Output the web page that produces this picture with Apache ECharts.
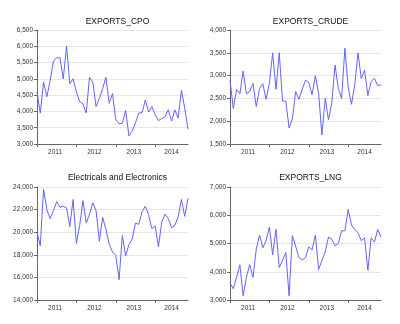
<!DOCTYPE html>
<html>
<head>
<meta charset="utf-8">
<script src="https://cdn.jsdelivr.net/npm/echarts@6/dist/echarts.min.js"></script>
<style>
  html, body { margin: 0; padding: 0; background: #fff; }
  #chart { width: 400px; height: 324px; }
</style>
</head>
<body>
<div id="chart"></div>
<script>
// Monthly observations, January 2011 through November 2014
const firstYear = 2011;
const monthCount = 47;

const cpo = [
  4600, 3950, 4900, 4450, 4950, 5550, 5640, 5650, 5000, 6000, 4850, 5000,
  4600, 4300, 4230, 3950, 5050, 4900, 4150, 4400, 4700, 5050, 4250, 4550,
  3750, 3620, 3640, 4030, 3250, 3400, 3650, 3950, 3960, 4350, 3980, 4150,
  3900, 3720, 3780, 3840, 4050, 3700, 4050, 3800, 4650, 4100, 3450
];

const crude = [
  2900, 2280, 2700, 2600, 3100, 2600, 2650, 2830, 2320, 2720, 2820, 2480,
  2830, 3500, 2700, 3500, 2440, 2440, 1850, 2050, 2650, 2480, 2700, 2900,
  2850, 2580, 3000, 2600, 1700, 2500, 2030, 2400, 3230, 2720, 2500, 3600,
  2750, 2370, 2800, 3500, 2930, 3120, 2560, 2870, 2940, 2780, 2800
];

const electronics = [
  20000, 18800, 23800, 22000, 21200, 21900, 22700, 22200, 22300, 22150, 20500, 22900,
  19000, 20600, 22800, 20800, 21600, 22600, 21900, 19200, 21300, 20250, 18950, 18250,
  17950, 15800, 19700, 17900, 18900, 19400, 20800, 20700, 21800, 22300, 21550, 20300,
  20550, 18700, 20900, 21600, 21200, 20400, 20600, 21350, 22900, 21400, 23000
];

const lng = [
  3600, 3400, 3800, 4250, 3150, 3800, 4250, 3800, 4800, 5300, 4850, 5100,
  5580, 4600, 5500, 4150, 4400, 4680, 3150, 5280, 4900, 4500, 4420, 4500,
  4880, 4780, 5300, 4080, 4400, 4700, 5230, 5150, 4920, 5000, 5450, 5450,
  6200, 5650, 5500, 5380, 5100, 5200, 4050, 5200, 5050, 5500, 5220
];

const titles = ['EXPORTS_CPO', 'EXPORTS_CRUDE', 'Electricals and Electronics', 'EXPORTS_LNG'];
const seriesValues = [cpo, crude, electronics, lng];
const yRanges = [
  { min: 3000, max: 6500, interval: 500 },
  { min: 1500, max: 4000, interval: 500 },
  { min: 14000, max: 24000, interval: 2000 },
  { min: 3000, max: 7000, interval: 1000 }
];

// Year ticks sit on each January; the year label is centred on that year's months
const yearOf = i => firstYear + Math.floor(i / 12);
const yearTicks = [];
const yearLabelAt = [];
const yearLabelText = {};
for (let y = firstYear; y <= yearOf(monthCount - 1); y++) {
  const idx = [];
  for (let i = 0; i < monthCount; i++) if (yearOf(i) === y) idx.push(i);
  yearTicks.push(idx[0]);
  const mid = (idx[0] + idx[idx.length - 1]) / 2;
  yearLabelAt.push(mid);
  yearLabelText[mid] = String(y);
}

const panels = [
  { left: 37, top: 30, width: 151, height: 114, titleTop: 12 },
  { left: 230, top: 30, width: 151, height: 114, titleTop: 12 },
  { left: 37, top: 187, width: 151, height: 113, titleTop: 168 },
  { left: 230, top: 187, width: 151, height: 113, titleTop: 168 }
];

const fontFamily = 'Arial, "Liberation Sans", sans-serif';
const axisColor = '#666';
const lineColor = '#6464ff';
const fmt = v => v.toLocaleString('en-US');

const option = {
  animation: false,
  backgroundColor: '#fff',
  title: panels.map((p, k) => ({
    text: titles[k],
    left: p.left + p.width / 2,
    top: p.titleTop,
    textAlign: 'center',
    textStyle: { fontFamily, fontSize: 8.5, fontWeight: 'normal', color: '#111' }
  })),
  grid: panels.map(p => ({ left: p.left, top: p.top, width: p.width, height: p.height })),
  xAxis: panels.map((p, k) => ({
    type: 'value',
    gridIndex: k,
    min: 0,
    max: monthCount - 1,
    axisLine: { show: true, lineStyle: { color: axisColor, width: 1 } },
    axisTick: { show: true, customValues: yearTicks, length: 3, lineStyle: { color: axisColor } },
    axisLabel: {
      customValues: yearLabelAt,
      formatter: v => yearLabelText[v] || '',
      fontFamily, fontSize: 6.5, color: '#333', margin: 5
    },
    splitLine: { show: false }
  })),
  yAxis: panels.map((p, k) => ({
    type: 'value',
    gridIndex: k,
    min: yRanges[k].min,
    max: yRanges[k].max,
    interval: yRanges[k].interval,
    axisLine: { show: true, lineStyle: { color: axisColor, width: 1 } },
    axisTick: { show: true, length: 3, lineStyle: { color: axisColor } },
    axisLabel: { formatter: fmt, fontFamily, fontSize: 6.5, color: '#333', margin: 4 },
    splitLine: { show: true, lineStyle: { color: '#e6e6e6', width: 1 } }
  })),
  series: seriesValues.map((vals, k) => ({
    type: 'line',
    xAxisIndex: k,
    yAxisIndex: k,
    data: vals.map((v, i) => [i, v]),
    showSymbol: false,
    lineStyle: { color: lineColor, width: 1 },
    itemStyle: { color: lineColor }
  }))
};

const chart = echarts.init(document.getElementById('chart'), null, { renderer: 'canvas' });
chart.setOption(option);
</script>
</body>
</html>
